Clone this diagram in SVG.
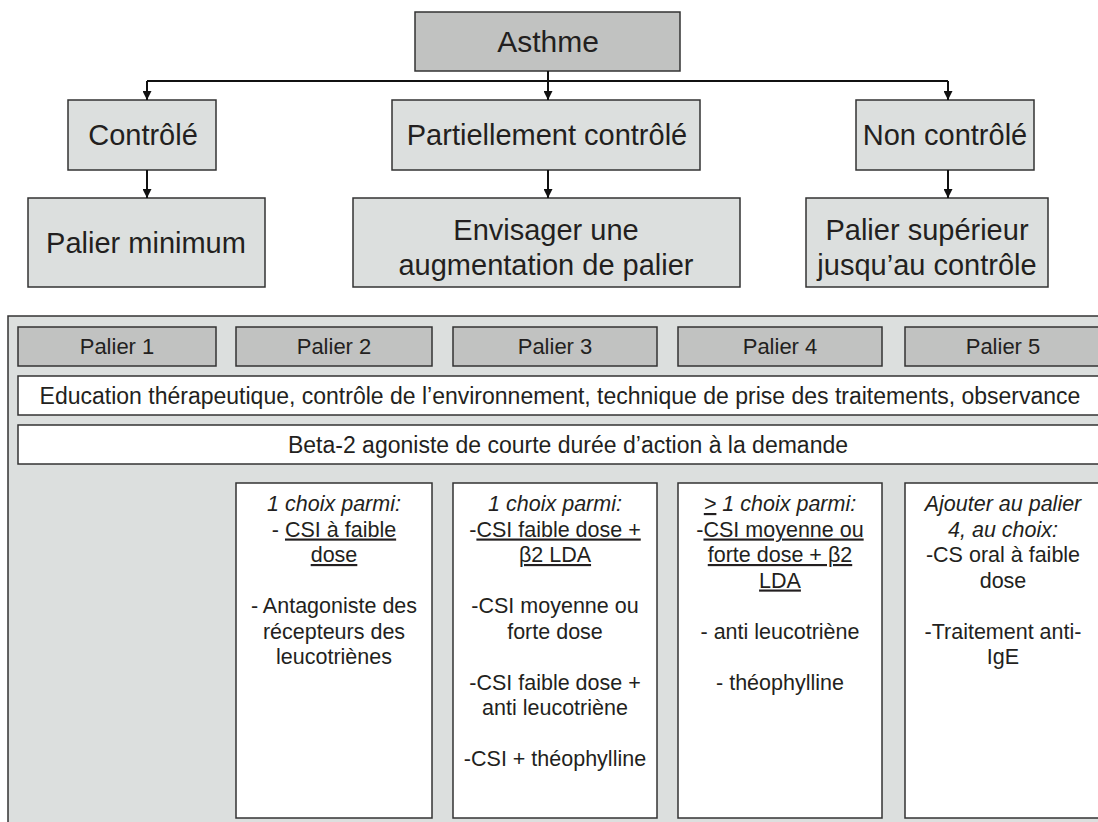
<svg xmlns="http://www.w3.org/2000/svg" width="1098" height="822" viewBox="0 0 1098 822">
<defs>
<marker id="ah" viewBox="0 0 10 10" refX="10" refY="5" markerWidth="9" markerHeight="9" markerUnits="userSpaceOnUse" orient="auto">
<path d="M0,0 L10,5 L0,10 z" fill="#111"/>
</marker>
<style>
text{font-family:"Liberation Sans",Arial,sans-serif;fill:#231f20}
.dark{fill:#c1c2c1;stroke:#333;stroke-width:1.5}
.light{fill:#dcdfde;stroke:#333;stroke-width:1.5}
.white{fill:#fff;stroke:#333;stroke-width:1.5}
.big{font-size:29px;text-anchor:middle}
.row{font-size:23px;text-anchor:middle}
.lab{font-size:22px;text-anchor:middle}
.mid{font-size:21.5px;text-anchor:middle}
.it{font-style:italic}
.u{text-decoration:underline}
.con{fill:none;stroke:#111;stroke-width:2}
</style>
</defs>
<rect width="1098" height="822" fill="#fff"/>

<g id="asthme"><rect class="dark" x="415" y="12" width="265" height="59"/><text class="big" x="548" y="52" style="font-size:30px">Asthme</text></g>
<g id="controle"><rect class="light" x="68" y="100" width="148" height="70"/><text class="big" x="143" y="145">Contrôlé</text></g>
<g id="partiel"><rect class="light" x="392" y="100" width="308" height="70"/><text class="big" x="547" y="145">Partiellement contrôlé</text></g>
<g id="noncontrole"><rect class="light" x="856" y="100" width="178" height="70"/><text class="big" x="945" y="145">Non contrôlé</text></g>
<g id="palmin"><rect class="light" x="28" y="198" width="237" height="89"/><text class="big" x="146" y="253">Palier minimum</text></g>
<g id="envisager"><rect class="light" x="353" y="198" width="387" height="89"/><text class="big" x="546" y="240">Envisager une</text><text class="big" x="546" y="275">augmentation de palier</text></g>
<g id="palsup"><rect class="light" x="806" y="198" width="242" height="89"/><text class="big" x="927" y="240">Palier supérieur</text><text class="big" x="927" y="275">jusqu’au contrôle</text></g>

<g id="connectors">
<path class="con" d="M147,81 H948"/>
<path class="con" d="M548,71 V100" marker-end="url(#ah)"/>
<path class="con" d="M147,81 V100" marker-end="url(#ah)"/>
<path class="con" d="M948,81 V100" marker-end="url(#ah)"/>
<path class="con" d="M147,170 V198" marker-end="url(#ah)"/>
<path class="con" d="M548,170 V198" marker-end="url(#ah)"/>
<path class="con" d="M948,170 V198" marker-end="url(#ah)"/>
</g>

<g id="panel"><rect class="light" x="8" y="316" width="1100" height="520" stroke="#555"/></g>

<g id="palier1"><rect class="dark" x="18" y="327" width="198" height="39"/><text class="lab" x="117" y="354">Palier 1</text></g>
<g id="palier2"><rect class="dark" x="236" y="327" width="196" height="39"/><text class="lab" x="334" y="354">Palier 2</text></g>
<g id="palier3"><rect class="dark" x="453" y="327" width="204" height="39"/><text class="lab" x="555" y="354">Palier 3</text></g>
<g id="palier4"><rect class="dark" x="678" y="327" width="204" height="39"/><text class="lab" x="780" y="354">Palier 4</text></g>
<g id="palier5"><rect class="dark" x="905" y="327" width="200" height="39"/><text class="lab" x="1003" y="354">Palier 5</text></g>

<g id="education"><rect class="white" x="18" y="376" width="1100" height="39"/><text class="row" x="560" y="403.5">Education thérapeutique, contrôle de l’environnement, technique de prise des traitements, observance</text></g>
<g id="beta2"><rect class="white" x="18" y="425" width="1100" height="39"/><text class="row" x="568" y="452.5">Beta-2 agoniste de courte durée d’action à la demande</text></g>

<g id="choix2"><rect class="white" x="236" y="483" width="196" height="335"/>
<text class="mid it" x="334" y="511">1 choix parmi:</text>
<text class="mid" x="334" y="536.5">- <tspan class="u">CSI à faible</tspan></text>
<text class="mid u" x="334" y="562">dose</text>
<text class="mid" x="334" y="613">- Antagoniste des</text>
<text class="mid" x="334" y="638.5">récepteurs des</text>
<text class="mid" x="334" y="664">leucotriènes</text>
</g>
<g id="choix3"><rect class="white" x="453" y="483" width="204" height="335"/>
<text class="mid it" x="555" y="511">1 choix parmi:</text>
<text class="mid" x="555" y="536.5">-<tspan class="u">CSI faible dose +</tspan></text>
<text class="mid u" x="555" y="562">β2 LDA</text>
<text class="mid" x="555" y="613">-CSI moyenne ou</text>
<text class="mid" x="555" y="638.5">forte dose</text>
<text class="mid" x="555" y="689.5">-CSI faible dose +</text>
<text class="mid" x="555" y="715">anti leucotriène</text>
<text class="mid" x="555" y="766">-CSI + théophylline</text>
</g>
<g id="choix4"><rect class="white" x="678" y="483" width="204" height="335"/>
<text class="mid it" x="780" y="511"><tspan class="u">&gt;</tspan> 1 choix parmi:</text>
<text class="mid" x="780" y="536.5">-<tspan class="u">CSI moyenne ou</tspan></text>
<text class="mid u" x="780" y="562">forte dose + β2</text>
<text class="mid u" x="780" y="587.5">LDA</text>
<text class="mid" x="780" y="638.5">- anti leucotriène</text>
<text class="mid" x="780" y="689.5">- théophylline</text>
</g>
<g id="choix5"><rect class="white" x="905" y="483" width="200" height="335"/>
<text class="mid it" x="1003" y="511">Ajouter au palier</text>
<text class="mid it" x="1003" y="536.5">4, au choix:</text>
<text class="mid" x="1003" y="562">-CS oral à faible</text>
<text class="mid" x="1003" y="587.5">dose</text>
<text class="mid" x="1003" y="638.5">-Traitement anti-</text>
<text class="mid" x="1003" y="664">IgE</text>
</g>
</svg>
